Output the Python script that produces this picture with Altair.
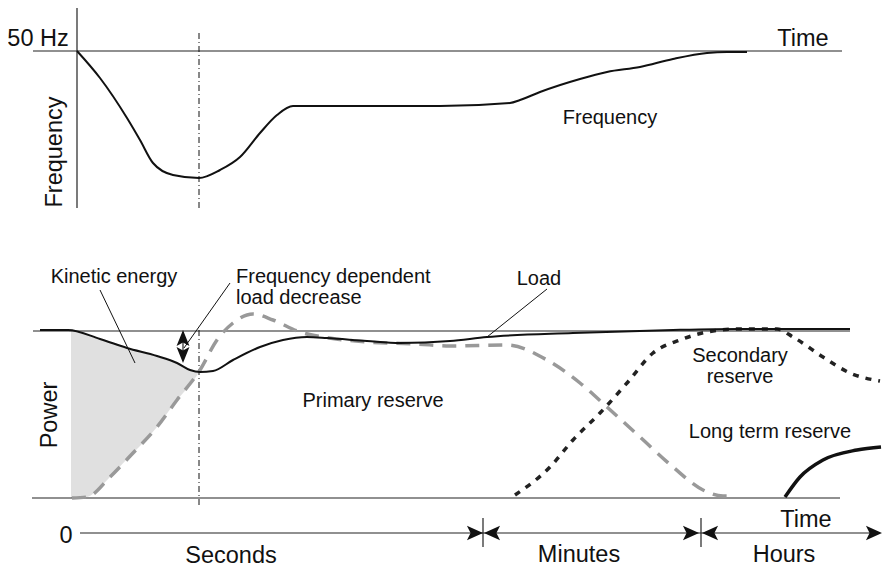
import altair as alt
import pandas as pd

# schematic coordinates (x to the right, y downwards)
freq_x = [77, 100, 127, 140, 153, 173, 199, 220, 240, 260, 277, 293, 317, 440, 510, 520, 540, 580, 607, 640, 673, 707, 727, 747]
freq_y = [51, 78, 118, 140, 163, 175, 178, 170, 157, 133, 115, 106, 106, 106, 103, 100, 92, 79, 72, 67, 59, 53, 52, 52]

load_x = [40, 68, 100, 127, 157, 177, 190, 200, 213, 233, 260, 283, 307, 327, 367, 400, 450, 487, 573, 673, 740, 850]
load_y = [330, 330, 339, 348, 356, 363, 370, 372, 371, 360, 347, 340, 337, 338, 341, 343, 341, 337, 333, 330, 329, 329]

primary_x = [72, 87, 110, 133, 157, 177, 200, 217, 233, 253, 273, 300, 323, 367, 417, 450, 507, 547, 580, 607, 640, 673, 703, 723, 733]
primary_y = [498, 497, 477, 453, 427, 400, 370, 340, 323, 314, 320, 332, 337, 342, 344, 346, 345, 360, 383, 407, 437, 467, 490, 496, 496]

secondary_x = [515, 550, 573, 600, 627, 653, 680, 707, 740, 777, 793, 823, 850, 880]
secondary_y = [495, 467, 440, 413, 383, 353, 340, 332, 329, 329, 337, 357, 373, 381]

longterm_x = [785, 800, 823, 857, 881]
longterm_y = [497, 477, 460, 450, 447]

kinetic_x = [71, 87, 100, 110, 127, 133, 157, 177, 190, 200]
kinetic_top = [331, 335, 339, 342, 348, 350, 356, 363, 370, 371]
kinetic_bottom = [498, 497, 487, 477, 459, 453, 427, 400, 385, 371]

# guide lines: x, y, x2, y2
guide_x = [77, 33, 33, 32, 80, 483, 701, 183]
guide_y = [8, 51, 331, 498, 533, 518, 518, 332]
guide_x2 = [77, 842, 850, 840, 878, 483, 701, 183]
guide_y2 = [208, 51, 331, 498, 533, 547, 547, 361]

leader_x = [100, 230, 547]
leader_y = [290, 283, 289]
leader_x2 = [135, 184, 487]
leader_y2 = [363, 348, 337]

marker_x = [199, 199]
marker_y = [33, 330]
marker_y2 = [210, 505]

# arrowheads (SVG paths in unit space)
RIGHT = "M1,0L-1,-0.9L-0.55,0L-1,0.9Z"
LEFT = "M-1,0L1,-0.9L0.55,0L1,0.9Z"
UP = "M0,-1L-0.8,1L0,0.55L0.8,1Z"
DOWN = "M0,1L-0.8,-1L0,-0.55L0.8,-1Z"
arrow_x = [874, 475, 492, 691, 710, 183, 183]
arrow_y = [533, 533, 533, 533, 533, 338, 355]
arrow_shape = [RIGHT, RIGHT, LEFT, RIGHT, LEFT, UP, DOWN]

big_text = ["50 Hz", "Time", "0", "Time", "Seconds", "Minutes", "Hours"]
big_x = [38, 803, 66, 806, 231, 579, 784]
big_y = [46, 46, 543, 527, 563, 562, 562]

axis_text = ["Frequency", "Power"]
axis_x = [62, 57]
axis_y = [152, 415]

note_text = ["Frequency", "Kinetic energy", "Primary reserve", "Load", "Secondary", "reserve", "Long term reserve"]
note_x = [610, 114, 373, 539, 740, 740, 770]
note_y = [124, 283, 407, 285, 362, 383, 438]

note_left_text = ["Frequency dependent", "load decrease"]
note_left_x = [236, 236]
note_left_y = [283, 304]

FONT = "Liberation Sans"
X = alt.Scale(domain=[8, 882], nice=False, zero=False)
Y = alt.Scale(domain=[8, 568], nice=False, zero=False, reverse=True)


def curve(xs, ys, **style):
    df = pd.DataFrame({"x": xs, "y": ys, "i": range(len(xs))})
    return alt.Chart(df).mark_line(interpolate="monotone", **style).encode(
        x=alt.X("x:Q", scale=X, axis=None),
        y=alt.Y("y:Q", scale=Y, axis=None),
        order="i:Q",
    )


def segments(xs, ys, xs2, ys2, **style):
    df = pd.DataFrame({"x": xs, "y": ys, "x2": xs2, "y2": ys2})
    return alt.Chart(df).mark_rule(**style).encode(
        x=alt.X("x:Q", scale=X, axis=None),
        y=alt.Y("y:Q", scale=Y, axis=None),
        x2="x2:Q",
        y2="y2:Q",
    )


def labels(texts, xs, ys, **style):
    df = pd.DataFrame({"t": texts, "x": xs, "y": ys})
    return alt.Chart(df).mark_text(font=FONT, color="#111", baseline="alphabetic", **style).encode(
        x=alt.X("x:Q", scale=X, axis=None),
        y=alt.Y("y:Q", scale=Y, axis=None),
        text="t:N",
    )


kinetic = alt.Chart(pd.DataFrame({"x": kinetic_x, "top": kinetic_top, "bottom": kinetic_bottom})).mark_area(
    interpolate="monotone", color="#e0e0e0"
).encode(
    x=alt.X("x:Q", scale=X, axis=None),
    y=alt.Y("top:Q", scale=Y, axis=None),
    y2="bottom:Q",
)

marker = alt.Chart(pd.DataFrame({"x": marker_x, "y": marker_y, "y2": marker_y2})).mark_rule(
    color="#111", strokeWidth=1, strokeDash=[6, 3, 1, 3]
).encode(
    x=alt.X("x:Q", scale=X, axis=None),
    y=alt.Y("y:Q", scale=Y, axis=None),
    y2="y2:Q",
)

arrows = alt.Chart(pd.DataFrame({"x": arrow_x, "y": arrow_y, "s": arrow_shape})).mark_point(
    filled=True, color="#111", size=260, opacity=1
).encode(
    x=alt.X("x:Q", scale=X, axis=None),
    y=alt.Y("y:Q", scale=Y, axis=None),
    shape=alt.Shape("s:N", scale=None, legend=None),
)

chart = alt.layer(
    kinetic,
    segments(guide_x, guide_y, guide_x2, guide_y2, color="#222", strokeWidth=1.2),
    segments(leader_x, leader_y, leader_x2, leader_y2, color="#111", strokeWidth=1),
    marker,
    curve(primary_x, primary_y, color="#999999", strokeWidth=3.5, strokeDash=[14, 9]),
    curve(secondary_x, secondary_y, color="#222", strokeWidth=3.5, strokeDash=[6, 7]),
    curve(longterm_x, longterm_y, color="#111", strokeWidth=3.5),
    curve(load_x, load_y, color="#111", strokeWidth=2),
    curve(freq_x, freq_y, color="#111", strokeWidth=2),
    arrows,
    labels(big_text, big_x, big_y, fontSize=23.5, align="center"),
    labels(axis_text, axis_x, axis_y, fontSize=23.5, align="center", angle=270),
    labels(note_text, note_x, note_y, fontSize=20, align="center"),
    labels(note_left_text, note_left_x, note_left_y, fontSize=20, align="left"),
).properties(
    width=874, height=560, padding=0, autosize="none"
).configure_view(stroke=None)

chart.save("out.html", embed_options={"renderer": "svg", "actions": False})
